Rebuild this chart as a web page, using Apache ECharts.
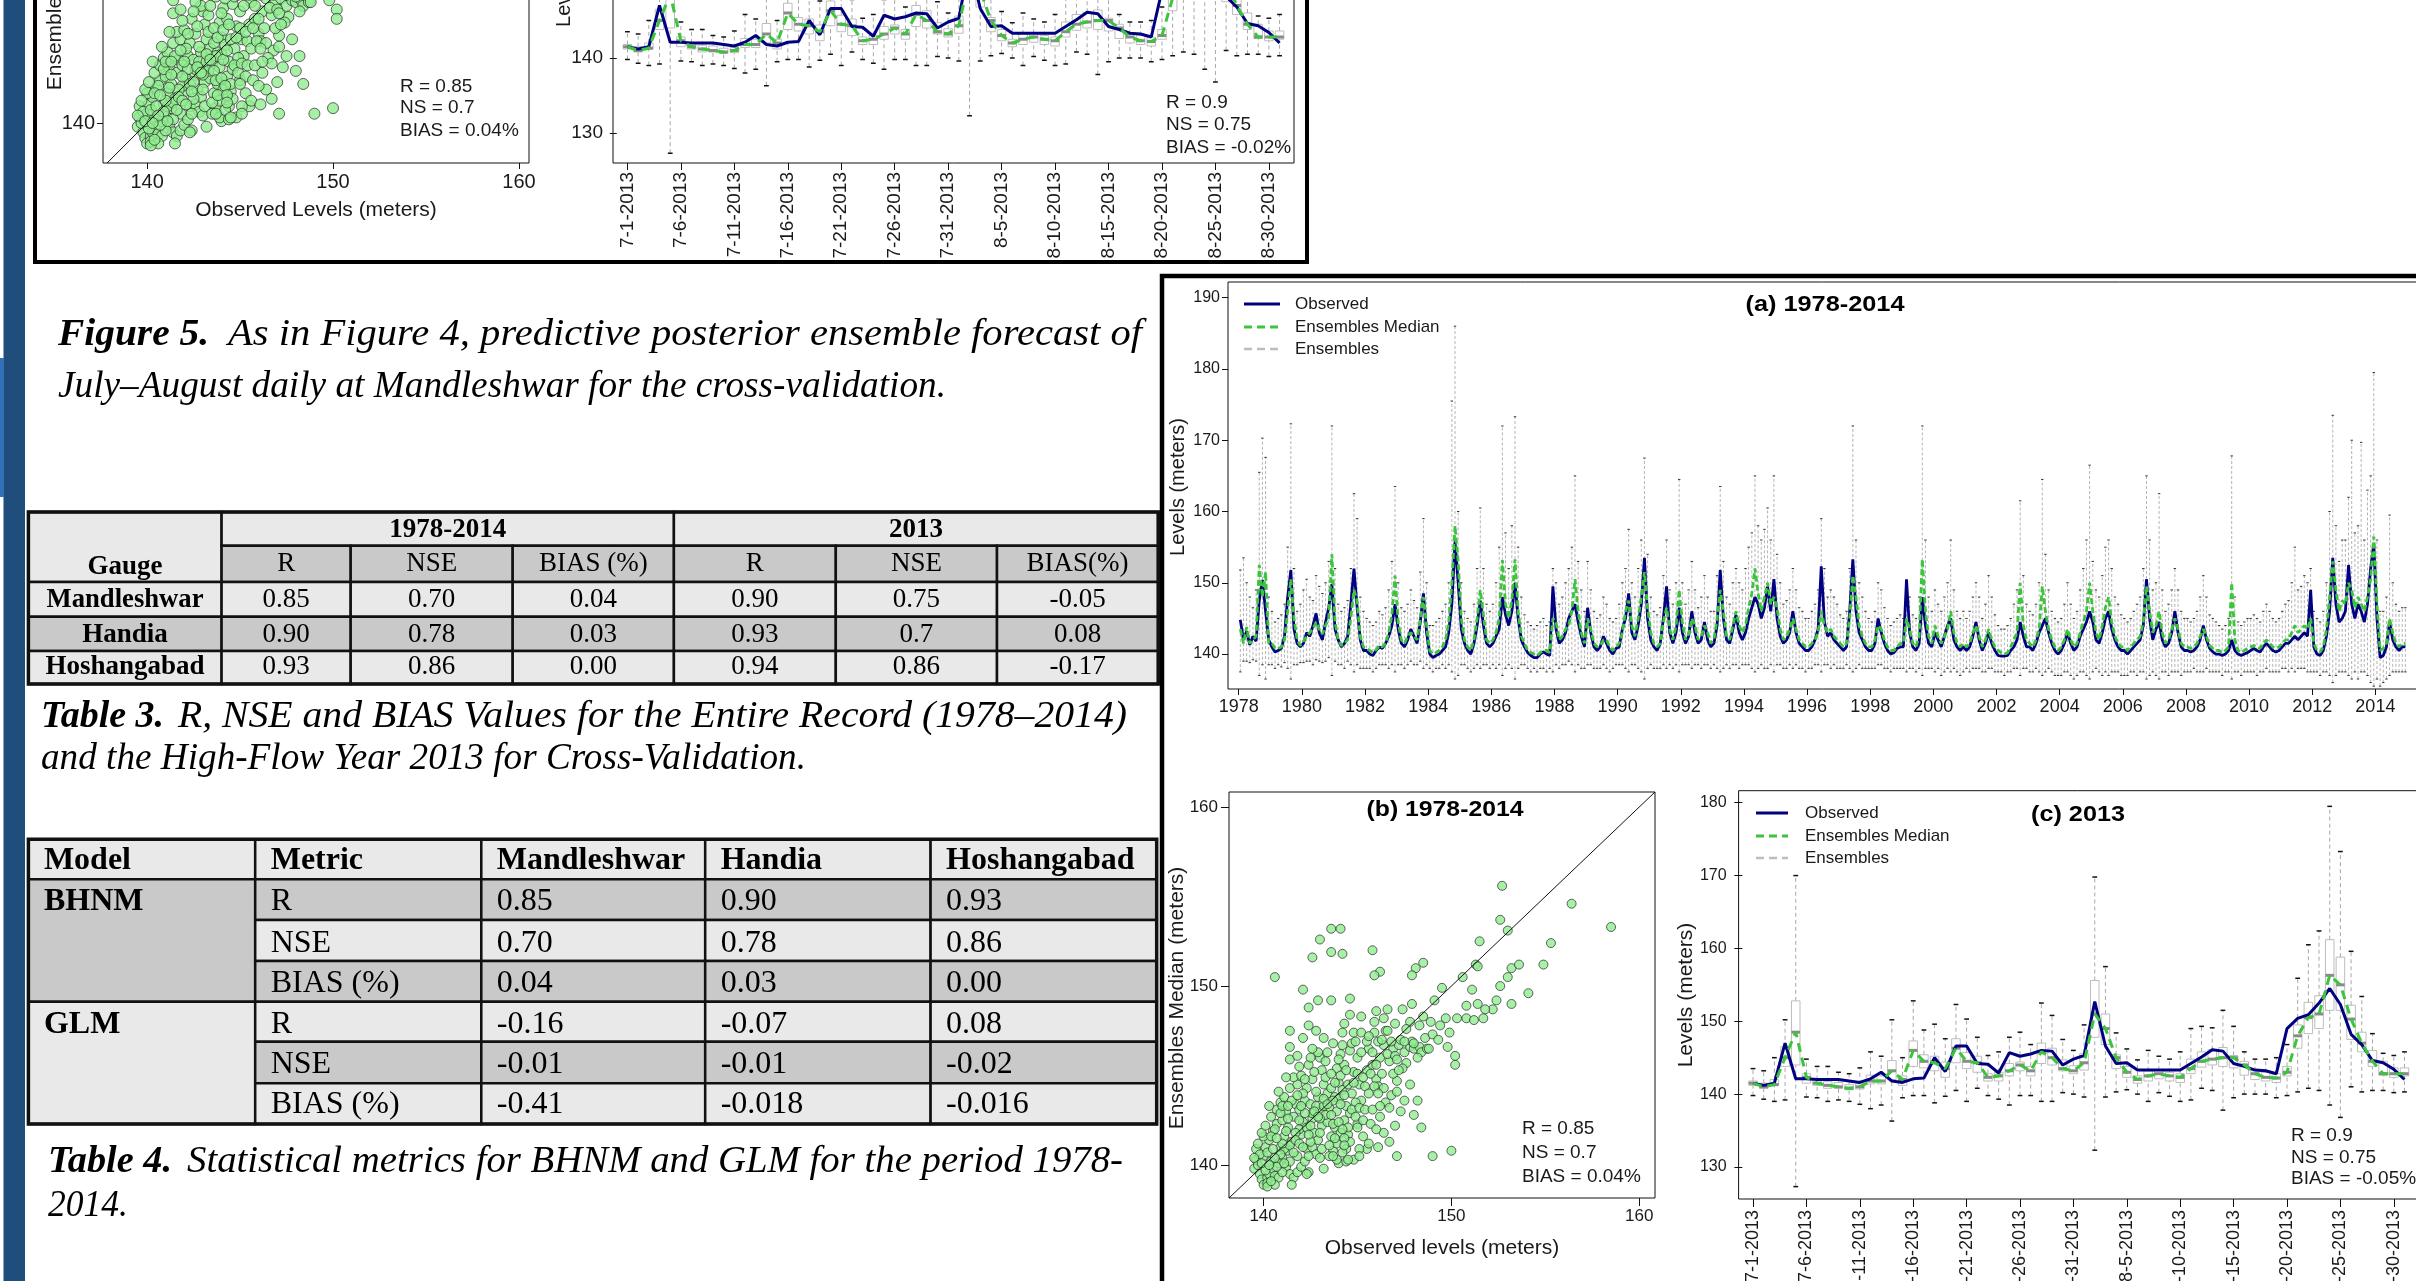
<!DOCTYPE html>
<html><head><meta charset="utf-8">
<script src="https://cdn.jsdelivr.net/npm/echarts@6/dist/echarts.min.js"></script>
<style>html,body{margin:0;padding:0;background:#fff;overflow:hidden}#main{width:2416px;height:1281px}</style>
</head><body><div id="main"></div>
<script>
// ================= DATA =================
// (a) 1978-2014: July-August levels, 10 readings per season
const years = [1978,1979,1980,1981,1982,1983,1984,1985,1986,1987,1988,1989,1990,1991,1992,1993,1994,1995,1996,1997,1998,1999,2000,2001,2002,2003,2004,2005,2006,2007,2008,2009,2010,2011,2012,2013,2014];
const yearTicks = [1978,1980,1982,1984,1986,1988,1990,1992,1994,1996,1998,2000,2002,2004,2006,2008,2010,2012,2014];
const levelTicksA = [140,150,160,170,180,190];
const tsObserved = [
[144.8,142.0,143.2,141.3,142.5,141.8,147.5,150.4,146.0,142.0],
[141.0,140.3,140.5,140.8,142.5,148.0,151.8,143.5,141.5,141.0],
[141.5,143.0,142.5,144.0,145.7,143.0,142.0,144.5,146.5,149.8],
[143.5,142.0,141.0,141.5,142.5,147.0,152.0,146.5,142.0,140.5],
[140.5,140.0,139.8,140.5,141.0,140.8,141.5,142.5,144.0,147.0],
[143.5,141.5,141.0,142.0,143.5,142.5,141.5,144.5,148.5,143.0],
[140.0,139.5,139.8,140.0,140.5,141.0,143.0,147.0,155.8,150.0],
[143.5,141.5,140.5,140.0,141.5,144.0,147.5,144.0,141.5,141.0],
[141.5,142.5,143.5,148.0,145.5,144.0,146.0,150.0,145.0,142.0],
[141.0,140.2,139.8,139.5,139.5,140.0,140.3,140.0,139.8,149.5],
[143.5,141.5,142.0,143.0,145.0,146.0,147.0,144.5,142.5,141.0],
[146.5,143.0,141.0,140.5,141.0,142.5,141.5,140.5,140.0,140.8],
[141.0,143.5,145.0,148.5,143.0,142.0,144.0,147.0,153.5,145.0],
[142.0,141.0,140.5,141.5,145.0,149.5,143.0,141.5,143.0,146.5],
[143.0,141.5,142.5,146.0,143.0,141.5,142.0,144.5,142.0,141.0],
[141.5,144.0,151.8,145.0,142.0,141.5,143.5,145.5,143.0,142.0],
[143.0,145.0,146.5,148.0,147.0,145.0,146.5,149.5,146.0,150.5],
[145.0,142.5,141.5,142.0,143.0,146.0,143.0,141.5,141.0,140.5],
[140.5,141.0,142.0,143.5,152.3,144.5,142.5,143.0,142.0,141.5],
[141.0,140.5,141.0,146.0,153.3,146.0,143.0,142.0,141.0,140.5],
[140.5,141.5,145.0,143.0,141.5,140.5,140.0,140.2,140.8,141.0],
[141.0,150.5,143.0,141.0,140.5,141.5,148.0,144.0,141.5,141.0],
[143.0,142.0,141.0,142.5,144.0,145.0,142.0,141.0,140.5,141.0],
[140.5,141.0,142.5,144.5,142.0,140.5,141.5,143.0,141.5,140.5],
[139.8,139.7,139.7,139.8,140.5,141.0,142.0,144.5,142.5,141.0],
[141.0,140.5,141.5,143.0,144.0,145.0,143.0,141.5,140.5,140.0],
[140.5,141.5,143.0,141.5,140.5,141.0,142.5,143.5,144.5,146.0],
[144.5,142.0,141.5,143.0,145.0,146.0,143.5,142.0,141.0,140.5],
[140.5,140.0,140.5,141.0,141.5,142.0,144.0,150.5,145.0,142.0],
[143.5,144.5,142.0,141.0,141.5,143.0,146.0,143.0,141.0,140.5],
[140.5,140.3,140.5,141.0,142.0,144.0,142.0,140.8,140.3,140.0],
[140.0,139.8,140.0,140.5,142.0,140.5,140.0,139.8,140.0,140.2],
[140.5,140.8,140.5,140.3,141.0,141.5,141.0,140.5,140.3,140.5],
[141.0,141.5,141.5,142.0,142.5,142.0,142.5,143.0,142.5,149.0],
[141.0,140.0,139.8,140.5,142.5,146.0,153.5,147.0,144.5,145.0],
[146.0,152.5,147.0,145.0,147.0,146.0,144.5,147.0,152.0,155.5],
[145.0,139.5,139.8,141.0,144.5,142.0,141.0,140.5,141.0,141.0]
];
const tsMedian = [
[143.5,141.5,143.8,141.5,142.0,142.5,152.5,148.0,151.5,141.5],
[141.5,140.8,140.8,141.0,142.0,146.0,150.5,145.0,142.0,141.2],
[141.8,142.5,143.0,143.5,144.5,143.5,142.8,144.0,145.0,154.0],
[144.5,142.0,141.2,141.5,142.0,145.0,149.0,147.5,142.5,141.0],
[140.8,140.5,140.2,140.6,141.2,141.0,141.5,143.0,145.5,151.0],
[144.5,142.0,141.5,142.5,143.0,142.5,142.0,145.0,148.0,144.0],
[140.5,140.0,140.2,140.5,141.0,142.0,144.5,150.0,158.0,153.0],
[145.0,142.0,141.0,140.5,142.0,145.0,149.0,145.5,142.0,141.5],
[142.0,143.0,145.0,153.2,147.0,145.0,147.5,153.3,146.0,142.5],
[141.5,140.5,140.2,140.0,139.8,140.2,140.5,140.5,140.2,145.0],
[144.5,142.0,142.5,143.5,144.0,146.0,150.5,146.0,143.0,141.5],
[145.0,143.5,141.5,141.0,141.2,142.0,142.0,141.0,140.5,141.0],
[141.5,143.0,146.0,147.5,144.0,142.5,145.0,148.0,151.5,146.5],
[143.0,141.5,141.0,141.5,144.5,146.5,143.5,142.0,144.0,149.0],
[144.5,142.0,142.8,145.0,144.0,142.0,142.5,144.0,143.0,141.5],
[142.0,145.0,149.0,146.0,142.5,142.0,144.0,146.0,144.0,143.0],
[144.0,146.5,148.5,152.0,148.5,146.0,148.0,150.0,147.0,148.0],
[146.5,143.5,142.0,142.5,143.5,145.0,143.5,142.0,141.5,141.0],
[141.0,141.5,142.0,143.0,146.0,144.0,143.0,143.5,142.5,142.0],
[141.5,141.0,141.5,145.0,151.0,148.0,144.0,142.5,141.5,141.0],
[141.0,142.0,144.0,143.5,142.0,141.0,140.5,140.5,141.0,141.5],
[141.5,145.0,143.5,141.5,141.0,142.5,153.3,146.0,142.5,141.5],
[144.0,142.5,141.5,142.5,143.5,146.0,143.0,141.5,141.0,141.5],
[141.0,141.5,143.0,144.0,142.5,141.0,142.0,143.5,142.0,141.0],
[140.5,140.2,140.0,140.2,141.0,142.0,143.0,150.0,144.0,142.0],
[141.5,141.0,142.0,143.5,149.5,146.0,143.5,142.0,141.0,140.5],
[141.0,142.0,143.5,142.0,141.0,141.5,143.0,144.5,146.0,150.0],
[146.0,143.0,142.0,144.0,146.5,148.0,144.5,142.5,141.5,141.0],
[141.0,140.5,141.0,141.5,142.0,142.5,144.5,149.5,146.0,143.0],
[144.0,146.0,143.0,141.5,142.0,143.5,145.0,143.5,141.5,141.0],
[141.0,140.8,141.0,141.5,142.5,143.5,142.5,141.2,140.8,140.5],
[140.5,140.2,140.5,141.0,150.0,142.0,140.5,140.2,140.5,140.8],
[141.0,141.2,141.0,140.8,141.5,142.0,141.5,141.0,140.8,141.0],
[141.5,142.0,142.0,143.0,144.0,143.0,143.5,144.0,143.5,145.0],
[141.5,140.5,140.3,141.0,143.5,148.0,153.0,149.0,146.0,147.5],
[147.0,150.0,149.0,146.5,148.0,147.0,146.0,148.0,150.5,156.5],
[147.0,140.5,140.8,141.5,145.0,143.0,141.5,141.0,141.5,141.5]
];
const tsEnsLow = [
[137.5,139.0,139.0,138.8,139.2,139.0,137.0,138.5,136.5,138.5],
[138.5,138.0,138.5,138.2,138.8,138.0,136.5,138.5,138.5,138.8],
[138.8,139.0,139.0,138.5,139.2,139.0,138.8,139.0,139.5,137.0],
[139.0,138.5,138.5,138.0,139.0,138.5,137.5,138.5,138.0,138.0],
[138.0,138.0,137.5,138.0,138.5,138.5,138.5,138.0,138.5,137.5],
[138.5,138.5,138.0,138.5,139.0,138.5,138.5,139.0,138.0,138.5],
[138.0,137.5,138.0,138.0,138.5,138.0,138.5,137.5,136.5,137.0],
[138.5,138.5,138.0,137.5,138.0,138.5,138.0,138.5,138.5,138.0],
[138.5,138.0,138.5,137.0,138.0,138.5,138.0,136.5,138.0,138.5],
[138.5,138.0,137.5,138.0,137.5,138.0,138.0,137.5,138.0,137.5],
[138.5,138.0,138.5,138.5,139.0,138.5,137.5,138.5,138.0,138.0],
[138.5,138.5,138.0,138.0,138.0,138.5,138.0,137.5,138.0,138.5],
[138.5,138.5,138.0,137.5,138.5,138.5,138.0,137.5,136.5,138.0],
[138.5,138.0,138.0,138.0,138.5,138.0,138.5,138.0,138.5,137.5],
[138.5,138.5,138.5,138.0,138.5,138.5,138.0,138.5,138.5,138.0],
[138.5,138.0,137.5,138.0,138.5,138.0,138.5,138.5,138.0,138.5],
[138.5,138.5,138.0,137.5,138.0,138.5,138.0,138.0,138.5,137.5],
[138.5,138.5,138.0,138.0,138.5,138.0,138.5,138.0,138.0,137.5],
[138.0,138.0,138.5,138.5,137.5,138.5,138.5,138.0,138.5,138.0],
[138.0,138.0,138.5,138.0,137.5,138.0,138.5,138.0,138.0,138.0],
[138.0,138.0,138.5,138.5,138.0,138.0,137.5,138.0,138.0,138.0],
[138.0,137.5,138.0,138.0,137.5,138.0,137.0,138.0,138.0,138.0],
[137.5,138.0,137.0,137.5,138.0,137.5,138.0,137.5,137.0,137.5],
[138.0,137.5,138.0,138.0,138.0,137.5,137.5,138.0,138.0,137.5],
[137.5,137.5,137.0,137.5,137.5,138.0,138.0,137.0,138.0,138.0],
[137.5,137.5,138.0,137.5,137.0,137.5,138.0,137.5,137.0,137.0],
[137.0,137.5,137.5,137.0,136.5,137.0,137.5,137.5,137.0,136.5],
[137.5,138.0,137.5,137.0,137.5,137.0,137.5,137.5,137.5,137.0],
[137.0,137.0,137.5,137.5,137.0,137.5,137.5,136.5,137.0,137.5],
[137.0,136.5,137.5,137.5,137.0,137.5,137.5,137.5,137.0,137.5],
[137.5,137.5,138.0,137.5,137.5,137.5,138.0,137.5,137.5,137.5],
[137.5,137.0,137.5,137.5,136.5,137.5,137.5,137.0,137.5,137.5],
[137.5,137.5,137.0,137.5,137.5,138.0,137.5,137.5,137.5,137.5],
[138.0,138.0,137.5,138.0,137.5,138.0,138.0,138.0,137.5,137.5],
[137.5,137.5,137.0,137.5,137.5,137.0,136.0,137.0,137.5,137.5],
[137.5,137.0,136.5,137.5,136.5,137.5,137.5,137.0,136.0,135.5],
[136.5,135.5,136.0,136.5,137.0,137.5,137.5,137.5,137.5,137.5]
];
const tsEnsHigh = [
[151.8,153.5,150.0,148.0,146.5,149.0,165.5,170.3,167.6,148.0],
[146.0,144.5,145.0,145.5,147.0,155.0,172.3,152.0,146.0,147.0],
[149.0,150.5,148.0,147.5,151.0,149.5,148.5,150.0,153.0,172.0],
[152.0,147.0,146.0,146.5,147.5,152.0,162.5,159.0,148.0,146.0],
[145.0,144.5,144.0,144.5,146.0,145.5,146.5,149.0,153.0,163.5],
[150.0,146.5,146.0,147.0,149.0,147.5,146.5,151.5,159.0,150.0],
[144.0,144.0,144.5,145.0,146.0,147.0,150.0,175.5,186.0,160.0],
[150.0,146.0,145.0,144.5,147.0,152.0,160.5,152.0,147.0,146.0],
[147.0,150.0,155.0,172.0,157.0,152.0,158.0,173.3,155.0,148.0],
[145.5,144.5,144.0,143.5,144.0,144.5,145.0,144.0,144.5,152.0],
[150.0,147.0,148.0,150.0,152.0,155.0,165.0,153.0,149.0,146.0],
[153.0,149.0,146.0,145.0,145.5,148.0,147.0,145.0,144.5,145.0],
[147.0,150.0,152.0,157.5,150.0,148.0,152.0,156.0,167.5,154.0],
[148.0,146.0,145.5,146.5,151.0,156.0,149.0,147.0,150.0,164.5],
[150.0,147.0,149.0,153.0,149.0,146.5,148.0,151.0,148.0,146.0],
[146.0,151.0,163.5,153.0,148.0,147.0,150.0,152.0,150.0,149.0],
[152.0,155.0,157.0,165.0,158.0,156.0,157.5,160.5,156.0,165.0],
[154.0,150.0,147.0,147.5,149.0,152.0,149.0,146.5,146.0,145.0],
[145.0,146.0,147.0,149.0,159.0,152.0,148.0,149.0,148.0,147.0],
[145.5,145.0,146.0,152.0,172.0,156.0,150.0,148.0,146.0,145.0],
[144.5,146.0,150.0,149.0,146.5,145.0,144.0,144.5,145.0,145.5],
[145.0,150.0,148.0,145.5,145.0,148.0,172.0,156.0,148.0,146.0],
[149.0,147.0,146.0,148.0,150.0,156.0,149.0,146.0,145.0,146.0],
[145.0,146.0,148.0,150.0,148.0,145.0,147.0,151.0,148.0,145.5],
[144.0,143.5,143.5,144.0,145.0,147.0,149.0,161.5,151.0,147.0],
[146.0,145.5,147.0,150.0,164.5,154.0,149.0,146.0,145.0,144.5],
[145.0,147.0,150.0,147.0,145.0,146.0,149.0,152.0,156.0,166.5],
[153.0,149.0,148.0,151.0,155.0,156.0,152.0,148.0,147.0,145.5],
[145.0,144.5,145.0,146.0,147.0,148.0,152.0,165.0,156.0,149.0],
[150.0,162.5,149.0,146.0,147.0,149.0,152.0,149.0,146.0,145.0],
[145.0,144.5,145.0,146.0,148.0,151.0,148.0,145.5,145.0,144.5],
[144.0,143.5,144.0,145.0,167.8,148.0,144.5,144.0,144.5,145.0],
[145.0,145.5,145.0,144.5,146.0,147.0,146.0,145.0,144.5,145.0],
[146.0,147.0,147.5,150.0,155.0,149.0,149.5,151.0,150.0,152.0],
[146.0,145.0,144.5,146.0,150.0,160.0,173.5,158.0,153.0,156.0],
[156.0,162.0,170.0,157.0,158.0,169.7,156.0,163.0,165.0,179.5],
[156.0,146.0,146.0,148.0,159.5,150.0,147.0,146.0,146.5,146.5]
];

// (b) Observed vs ensemble median pairs
const scatterObsMed = [
[139.6,140.9],[139.6,140.3],[139.5,139.8],[139.8,139.5],[139.9,139.2],[140.0,138.9],[140.2,139.3],[140.3,139.5],[139.7,140.0],[140.0,140.5],
[140.1,141.0],[140.4,140.2],[140.5,139.8],[140.6,139.4],[140.8,139.3],[140.3,141.4],[140.5,141.9],[140.7,142.3],[140.4,142.7],[140.7,143.1],
[140.9,143.5],[140.6,142.0],[140.9,141.0],[141.0,140.4],[141.2,139.9],[141.4,139.5],[141.6,139.3],[141.8,139.6],[141.3,140.8],[141.1,141.6],
[141.0,142.5],[141.2,143.0],[141.1,143.8],[141.4,144.3],[141.3,142.1],[141.5,141.3],[141.6,142.7],[141.7,143.4],[141.8,144.5],[141.6,144.9],
[141.8,140.5],[142.0,139.9],[142.2,140.2],[142.3,140.9],[142.0,141.7],[142.1,142.4],[141.9,143.1],[142.2,143.6],[142.3,144.3],[142.0,145.0],
[142.4,145.6],[142.6,144.8],[142.5,143.4],[142.6,142.6],[142.7,141.8],[142.6,141.0],[142.8,140.6],[143.0,140.4],[142.9,141.4],[143.1,142.2],
[143.0,143.0],[142.9,143.8],[143.2,144.5],[143.1,145.3],[143.0,146.0],[143.3,145.8],[143.4,144.0],[143.5,143.2],[143.4,142.4],[143.6,141.6],
[143.7,140.8],[143.5,140.5],[143.9,141.2],[143.8,142.1],[143.9,143.0],[143.8,143.8],[144.0,144.6],[143.9,145.4],[144.1,146.2],[144.3,145.6],
[144.2,144.2],[144.4,143.3],[144.3,142.5],[144.5,141.7],[144.4,140.9],[144.6,142.9],[144.7,144.0],[144.8,145.2],[144.6,146.4],[145.0,146.0],
[145.1,144.5],[145.2,143.6],[145.0,142.3],[145.3,141.6],[145.5,145.3],[145.6,146.5],[145.8,145.6],[146.0,144.8],[146.2,146.0],[146.4,146.7],
[146.7,145.8],[146.9,146.5],[147.2,146.7],[147.5,146.3],[147.8,146.6],[148.0,146.5],[148.3,146.6],[148.6,147.1],[148.4,146.3],[146.5,147.5],
[145.9,147.4],[146.1,144.4],[146.8,143.9],[147.1,144.7],[145.4,144.4],[144.9,143.5],
[139.8,140.6],[140.2,140.7],[140.0,141.6],[140.5,140.9],[140.8,140.1],[141.1,140.9],[141.4,141.1],[141.9,142.0],[142.3,142.1],[142.6,142.9],
[142.8,143.3],[143.2,143.3],[143.6,144.3],[144.0,143.7],[141.0,139.6],[140.2,139.0],[140.6,138.9],[141.5,138.9],[142.4,139.6],[143.2,139.8],
[144.0,140.1],[144.8,140.3],[141.7,141.8],[142.2,142.9],[140.9,142.9],[143.3,142.8],[144.1,141.8],[143.7,143.6],
[139.5,140.4],[139.7,141.2],[139.9,141.8],[140.1,142.2],[140.3,143.3],[140.2,138.8],[140.4,139.1],[140.7,139.9],[140.9,140.6],[141.0,141.2],
[141.2,141.9],[141.3,142.6],[141.5,143.6],[141.4,140.2],[141.6,140.7],[141.7,141.4],[141.9,142.5],[142.0,143.3],[142.1,144.0],[142.2,144.8],
[142.3,139.5],[142.4,140.5],[142.5,141.3],[142.5,142.2],[142.7,143.0],[142.8,144.1],[142.7,145.2],[142.9,146.3],[143.0,141.8],[143.1,140.9],
[143.2,143.7],[143.3,144.9],[143.4,146.3],[143.5,141.1],[143.6,142.8],[143.6,145.1],[143.7,142.3],[143.8,144.6],[143.9,140.3],[144.0,142.4],
[144.1,143.4],[144.1,145.0],[144.2,146.7],[144.3,143.9],[144.4,145.3],[144.5,142.1],[144.5,144.5],[144.6,141.3],[144.7,143.1],[144.7,146.8],
[144.8,144.6],[144.9,142.7],[145.0,145.1],[145.1,143.2],[145.2,146.3],[145.3,144.9],[145.4,143.1],[145.5,146.9],[145.6,144.0],[145.7,145.1],
[145.8,146.3],[145.9,144.4],[146.0,145.6],[146.1,146.9],[146.3,145.1],[146.4,144.3],[146.6,146.2],[146.8,146.9],[147.0,146.1],[147.3,147.0],
[147.6,145.7],[147.9,146.9],[148.2,146.0],[148.7,146.5],[149.0,147.3],[149.3,147.0],[146.9,145.1],[147.4,145.4],[141.0,143.3],[140.8,144.1],
[141.2,144.9],[141.9,145.5],[142.6,146.5],[141.4,146.6],[140.6,140.4],[140.1,139.7],[139.9,140.1],[140.4,141.6],[141.1,140.1],[141.9,141.2],
[142.4,141.7],[142.1,141.0],[143.0,142.6],[143.4,143.4],[144.0,145.9],[144.9,146.9],[145.3,142.5],[145.7,142.3],[146.2,142.7],[146.5,143.5],
[140.3,140.0],[140.7,141.5],[141.3,143.3],[141.8,143.9],[142.9,142.7],[143.8,141.5],[144.2,140.7],[145.5,140.9],[146.4,141.8],[147.0,142.2],
[147.3,143.0],[147.8,144.5],[148.2,143.6],[143.2,147.1],[142.8,147.5],[143.7,146.8],[144.3,147.9],[145.2,148.3],[146.4,148.2],[147.8,148.0],
[152.7,155.6],[156.4,154.6],[158.5,153.3],[152.6,153.7],[153.0,153.1],[151.5,152.5],[155.3,152.4],[143.6,153.2],[144.1,153.2],[143.0,152.6],
[143.6,151.9],[144.2,151.8],[142.6,151.6],[145.8,152.0],[148.5,151.3],[148.1,151.0],[147.9,150.6],[146.2,150.8],[145.9,150.6],[140.6,150.5],
[150.6,150.5],[151.3,151.2],[151.4,151.1],[153.2,151.0],[153.6,151.2],[154.9,151.2],[153.0,150.5],[152.6,150.0],[154.1,149.6],[142.1,149.8],
[142.9,149.2],[143.6,149.2],[144.6,149.3],[142.4,148.8],[144.6,148.4],[149.5,149.9],[149.1,149.2],[151.1,149.8],[150.8,148.9],[151.4,149.0],
[152.4,149.2],[153.2,149.0],[152.2,148.7],[151.8,148.7],[146.0,148.6],[146.6,148.7],[147.4,148.7],[147.9,149.0],[148.5,148.3],[149.7,148.2],
[150.3,148.2],[150.8,148.2],[151.2,148.1],[151.7,148.2],[145.9,148.0],[147.0,147.9],[147.6,147.6],[148.3,147.8],[148.9,148.0],[149.4,147.8],
[149.9,147.4],[141.4,147.5],[142.4,147.8],[142.1,147.1],[146.6,147.5],[149.8,146.6],[150.2,146.1],[150.2,145.6],[148.8,146.5],[148.0,146.8],
[147.5,146.9],[147.1,145.9],[141.4,145.9],[141.8,146.1],[142.5,146.0],[144.2,147.4],[144.8,147.4],[145.2,147.4],[145.6,147.2],[146.3,147.0],
[147.2,145.3],[147.1,144.1],[147.5,143.6],[146.1,144.0],[146.7,143.2],[148.0,142.8],[148.4,142.1],[145.8,143.1],[146.2,143.3],[146.0,142.0],
[146.7,141.3],[145.6,141.2],[146.1,141.0],[147.1,140.5],[149.0,140.5],[150.0,140.8],[145.0,142.1],[145.1,140.9],[145.1,140.5],[144.4,140.2],
[144.5,140.3],[143.7,140.5],[144.2,142.0],[144.3,141.5],[144.3,141.1]
];

// (c) 2013 daily, July 1 - Aug 31
const dayTicks = [1,6,11,16,21,26,31,36,41,46,51,56,61];
const dayTickLabels = ['7-1-2013','7-6-2013','7-11-2013','7-16-2013','7-21-2013','7-26-2013','7-31-2013','8-5-2013','8-10-2013','8-15-2013','8-20-2013','8-25-2013','8-30-2013'];
const levelTicksC = [130,140,150,160,170,180];
const levelTicksB = [140,150,160];
const observed2013 = [141.5,141.2,141.5,147.0,142.1,142.1,142.0,142.0,142.0,141.8, 141.6,142.1,143.0,141.8,141.6,142.1,142.2,145.0,143.1,146.6, 146.6,144.2,144.1,142.9,145.7,145.2,145.5,146.0,145.9,144.0, 144.8,145.3,152.7,146.6,144.2,144.3,143.3,143.3,143.3,143.3, 143.3,144.2,145.1,146.1,145.9,144.2,143.8,143.3,143.2,142.8, 149.0,150.4,150.9,152.5,154.5,152.3,148.2,146.8,144.6,144.3,143.4,142.0];
const median2013 = [141.5,141.0,141.3,145.0,148.5,142.3,141.5,141.2,141.0,140.8, 141.0,141.8,141.8,143.2,142.0,146.0,144.5,144.3,143.5,146.3, 144.5,144.3,142.3,142.5,143.2,144.0,143.2,145.8,145.0,143.5, 143.2,144.3,151.0,149.0,145.0,143.0,142.0,142.5,142.8,142.5, 142.3,143.5,144.5,144.8,145.0,145.0,144.0,142.8,142.3,142.2, 143.0,148.0,150.5,151.0,156.3,155.0,150.3,147.0,144.5,142.8,142.8,142.8];
const whiskerLow2013 = [139.8,139.3,139.0,139.2,127.3,139.6,139.5,139.0,139.2,139.0, 138.6,138.0,138.5,136.3,139.5,139.8,139.8,138.8,139.7,140.5, 139.0,140.8,139.8,139.3,138.5,139.8,139.8,139.0,139.0,140.2, 140.0,139.6,132.3,139.6,140.3,140.6,140.0,139.0,140.2,139.7, 139.0,139.2,140.8,140.5,137.8,139.5,140.0,140.0,140.0,139.5, 139.8,140.3,140.8,140.5,138.5,136.8,141.0,140.3,140.5,140.5,140.2,140.3];
const boxLow2013 = [141.2,140.8,141.2,143.8,144.0,141.5,141.2,140.8,140.8,140.6, 140.7,141.4,141.4,142.0,141.2,143.8,143.6,143.2,142.3,144.3, 143.5,143.0,141.8,141.8,142.5,143.2,142.5,144.2,144.0,143.2, 142.8,143.3,147.8,146.8,143.5,142.3,141.5,141.8,142.1,141.8, 141.6,142.8,143.7,144.0,143.8,143.6,142.6,142.0,141.8,141.6, 142.5,146.3,148.3,149.0,151.5,151.5,147.5,145.8,143.8,142.6,142.3,142.5];
const boxHigh2013 = [141.8,141.5,142.0,146.5,152.8,142.8,142.0,141.7,141.6,141.3, 141.4,142.6,142.5,144.6,142.5,147.3,145.4,145.2,144.4,147.6, 145.7,145.2,142.8,143.0,144.2,144.4,143.8,147.0,146.3,144.7, 143.9,145.6,155.6,151.0,145.4,143.8,142.5,143.2,143.3,143.0, 142.8,144.8,145.8,146.1,146.4,145.3,144.5,143.2,143.0,142.8, 143.8,149.5,152.6,153.5,161.2,158.8,152.2,148.5,146.0,144.5,143.6,143.6];
const whiskerHigh2013 = [143.5,143.2,145.0,150.2,170.0,144.8,143.8,143.8,143.0,142.8, 143.6,145.8,145.2,150.2,145.0,152.8,148.8,149.6,147.6,152.3, 150.3,147.8,145.3,145.8,147.8,148.5,146.8,152.5,150.8,147.5, 146.0,149.5,169.8,157.5,148.4,146.2,144.7,146.0,145.2,144.8, 145.8,149.0,149.3,149.1,151.5,149.3,145.8,144.8,144.8,145.0, 146.8,155.9,160.5,162.4,179.5,173.3,159.6,153.4,148.3,145.6,145.3,145.8];

// Table 3
const t3Gauges = ['Mandleshwar','Handia','Hoshangabad'];
const t3Periods = ['1978-2014','2013'];
const t3Metrics = ['R','NSE','BIAS (%)','R','NSE','BIAS(%)'];
const t3R_all = ['0.85','0.90','0.93'];
const t3NSE_all = ['0.70','0.78','0.86'];
const t3BIAS_all = ['0.04','0.03','0.00'];
const t3R_2013 = ['0.90','0.93','0.94'];
const t3NSE_2013 = ['0.75','0.7','0.86'];
const t3BIAS_2013 = ['-0.05','0.08','-0.17'];
// Table 4
const t4Header = ['Model','Metric','Mandleshwar','Handia','Hoshangabad'];
const t4Models = ['BHNM','GLM'];
const t4Metrics = ['R','NSE','BIAS (%)','R','NSE','BIAS (%)'];
const t4Mandleshwar = ['0.85','0.70','0.04','-0.16','-0.01','-0.41'];
const t4Handia = ['0.90','0.78','0.03','-0.07','-0.01','-0.018'];
const t4Hoshangabad = ['0.93','0.86','0.00','0.08','-0.02','-0.016'];

// ================= STYLE / HELPERS =================
const NAVY = '#000080', GREEN = '#3cc43c', SANS = '"Liberation Sans", Arial, sans-serif', SERIF = '"Liberation Serif", "Times New Roman", serif';
const ctx2d = document.createElement('canvas').getContext('2d');
function measure(str, font){ ctx2d.font = font; return ctx2d.measureText(str).width; }
function T(str, x, y, font, o){
  o = o || {};
  let sx = o.scaleX || 1;
  if (o.fitW) sx = o.fitW / measure(str, font);
  const al = o.align || 'left', va = o.va || 'middle';
  return {type:'text', x:x, y:y, rotation:o.rot||0, scaleX:sx, scaleY:1, z:o.z||60, silent:true,
    style:{text:str, font:font, fill:o.fill||'#000', textAlign:al, align:al, textVerticalAlign:va, verticalAlign:va}};
}
function L(x1,y1,x2,y2,stroke,w,dash){ return {type:'line', z:60, silent:true, shape:{x1,y1,x2,y2}, style:{stroke:stroke, lineWidth:w, lineDash:dash||null}}; }
function RC(x,y,w,h,fill,stroke,lw,z){ return {type:'rect', z:z||10, silent:true, shape:{x:x,y:y,width:w,height:h}, style:{fill:fill||'none', stroke:stroke||null, lineWidth:lw||0}}; }

function valAxis(grid, min, max, ticks, o){
  o = o || {};
  const lab = {show:true, customValues:ticks, margin:o.margin||8, fontSize:o.fontSize||16, fontFamily:SANS, color:'#1a1a1a', rotate:o.rotate||0,
    formatter: o.formatter || (v => String(v))};
  return {type:'value', gridIndex:grid, min:min, max:max,
    axisLine:{show:false}, splitLine:{show:false},
    axisTick:{show:true, inside:false, length:o.tickLen||7, customValues:ticks, lineStyle:{color:'#111', width:1}},
    axisLabel:lab};
}
const dayFmt = v => { const i = dayTicks.indexOf(Math.round(v)); return i >= 0 ? dayTickLabels[i] : ''; };

// series data built from arrays
const whiskerData = [], obsLine = [], medLine = [];
years.forEach((yr, yi) => {
  const n = tsObserved[yi].length;
  for (let k = 0; k < n; k++) {
    const x = yr + (k + 0.5) / n;
    whiskerData.push([x, tsEnsLow[yi][k], tsEnsHigh[yi][k]]);
    obsLine.push([x, tsObserved[yi][k]]);
    medLine.push([x, tsMedian[yi][k]]);
  }
});
const boxData = observed2013.map((v, i) => [i + 1, whiskerLow2013[i], boxLow2013[i], median2013[i], boxHigh2013[i], whiskerHigh2013[i]]);
const obs13 = observed2013.map((v, i) => [i + 1, v]);
const med13 = median2013.map((v, i) => [i + 1, v]);

function renderWhisker(params, api){
  const x = api.value(0), lo = api.value(1), hi = api.value(2);
  const a = api.coord([x, lo]), b = api.coord([x, hi]);
  return {type:'group', children:[
    {type:'line', shape:{x1:a[0],y1:a[1],x2:b[0],y2:b[1]}, style:{stroke:'#b4b4b4', lineWidth:1, lineDash:[3,2]}},
    {type:'line', shape:{x1:a[0]-1.2,y1:a[1],x2:a[0]+1.2,y2:a[1]}, style:{stroke:'#333', lineWidth:1}},
    {type:'line', shape:{x1:b[0]-1.2,y1:b[1],x2:b[0]+1.2,y2:b[1]}, style:{stroke:'#333', lineWidth:1}}
  ]};
}
function renderBox(params, api){
  const d = api.value(0);
  const pLo = api.coord([d, api.value(1)]), pQ1 = api.coord([d, api.value(2)]), pMd = api.coord([d, api.value(3)]),
        pQ3 = api.coord([d, api.value(4)]), pHi = api.coord([d, api.value(5)]);
  const w = api.size([0.8, 0])[0], cx = pLo[0], hw = w / 2, cw = w * 0.28;
  return {type:'group', children:[
    {type:'line', shape:{x1:cx,y1:pLo[1],x2:cx,y2:pQ1[1]}, style:{stroke:'#a8a8a8', lineWidth:1, lineDash:[4,3]}},
    {type:'line', shape:{x1:cx,y1:pQ3[1],x2:cx,y2:pHi[1]}, style:{stroke:'#a8a8a8', lineWidth:1, lineDash:[4,3]}},
    {type:'line', shape:{x1:cx-cw,y1:pLo[1],x2:cx+cw,y2:pLo[1]}, style:{stroke:'#111', lineWidth:1.5}},
    {type:'line', shape:{x1:cx-cw,y1:pHi[1],x2:cx+cw,y2:pHi[1]}, style:{stroke:'#111', lineWidth:1.5}},
    {type:'rect', shape:{x:cx-hw, y:pQ3[1], width:w, height:Math.max(pQ1[1]-pQ3[1], 1)}, style:{fill:'none', stroke:'#bdbdbd', lineWidth:1}},
    {type:'line', shape:{x1:cx-hw,y1:pMd[1],x2:cx+hw,y2:pMd[1]}, style:{stroke:'#8a8a8a', lineWidth:3}}
  ]};
}

// axis ranges
const tlX = [137.63, 160.54], tlY = [137.85, 160.84];
const bRange = [138.16, 160.84];
const dayRange = [-0.35, 63.35];

// ================= GRAPHICS (frames, texts, tables) =================
const G = [];
// left page bar
G.push(RC(3.5, 0, 21.5, 1281, '#1f4e7d', null, 0, 5));
G.push(RC(0, 358, 4, 139, '#3270b8', null, 0, 6));
// figure frames
G.push(RC(35, -20, 1272, 282, 'none', '#000', 4, 70));
G.push(RC(1162, 276, 1320, 1100, 'none', '#000', 4.5, 70));

// top-left figure texts (cropped Figure 4)
G.push(T('Observed Levels (meters)', 316, 210, '21px ' + SANS, {align:'center', fill:'#1a1a1a'}));
G.push(T('Ensembles Median (meters)', 55, -41, '21px ' + SANS, {align:'center', rot:Math.PI/2, fill:'#1a1a1a'}));
G.push(T('Levels (meters)', 564, -42, '20px ' + SANS, {align:'center', rot:Math.PI/2, fill:'#1a1a1a'}));
[['R = 0.85',87],['NS = 0.7',108],['BIAS = 0.04%',131]].forEach(t => G.push(T(t[0], 400, t[1], '19px ' + SANS, {fill:'#1a1a1a'})));
[['R = 0.9',103],['NS = 0.75',125],['BIAS = -0.02%',148]].forEach(t => G.push(T(t[0], 1166, t[1], '19px ' + SANS, {fill:'#1a1a1a'})));

// (a)
G.push(T('(a) 1978-2014', 1825, 305, 'bold 22px ' + SANS, {align:'center', fitW:159}));
G.push(T('Levels (meters)', 1178, 487, '20px ' + SANS, {align:'center', rot:Math.PI/2, fill:'#1a1a1a'}));
G.push(L(1244, 304, 1280, 304, NAVY, 3));
G.push(L(1244, 327, 1280, 327, GREEN, 3, [8,5]));
G.push(L(1244, 349, 1280, 349, '#bdbdbd', 2.5, [8,5]));
[['Observed',304],['Ensembles Median',327],['Ensembles',349]].forEach(t => G.push(T(t[0], 1295, t[1], '17px ' + SANS, {fill:'#1a1a1a'})));

// (b)
G.push(T('(b) 1978-2014', 1445, 810, 'bold 22px ' + SANS, {align:'center', fitW:157}));
G.push(T('Observed levels (meters)', 1442, 1248, '21px ' + SANS, {align:'center', fill:'#1a1a1a'}));
G.push(T('Ensembles Median (meters)', 1177, 998, '21px ' + SANS, {align:'center', rot:Math.PI/2, fill:'#1a1a1a'}));
[['R = 0.85',1129],['NS = 0.7',1153],['BIAS = 0.04%',1177]].forEach(t => G.push(T(t[0], 1522, t[1], '19px ' + SANS, {fill:'#1a1a1a'})));

// (c)
G.push(T('(c) 2013', 2078, 815, 'bold 22px ' + SANS, {align:'center', fitW:94}));
G.push(T('Levels (meters)', 1686, 995, '21px ' + SANS, {align:'center', rot:Math.PI/2, fill:'#1a1a1a'}));
G.push(L(1756, 813, 1788, 813, NAVY, 3));
G.push(L(1756, 836, 1788, 836, GREEN, 3, [8,5]));
G.push(L(1756, 858, 1788, 858, '#bdbdbd', 2.5, [8,5]));
[['Observed',813],['Ensembles Median',836],['Ensembles',858]].forEach(t => G.push(T(t[0], 1805, t[1], '17px ' + SANS, {fill:'#1a1a1a'})));
[['R = 0.9',1136],['NS = 0.75',1158],['BIAS = -0.05%',1179]].forEach(t => G.push(T(t[0], 2291, t[1], '19px ' + SANS, {fill:'#1a1a1a'})));

// captions
function cap(segs){ segs.forEach(s => G.push(T(s[0], s[2], s[4], s[1], {fitW:s[3]-s[2]}))); }
const BI = sz => 'italic bold ' + sz + 'px ' + SERIF, IT = sz => 'italic ' + sz + 'px ' + SERIF;
cap([
  ['Figure 5.', BI(37), 58, 209, 335],
  ['As in Figure 4, predictive posterior ensemble forecast of', IT(37), 228, 1142, 335],
  ['July\u2013August daily at Mandleshwar for the cross-validation.', IT(37), 58, 946, 387],
  ['Table 3.', BI(37), 41, 164, 717],
  ['R, NSE and BIAS Values for the Entire Record (1978\u20132014)', IT(37), 178, 1127, 717],
  ['and the High-Flow Year 2013 for Cross-Validation.', IT(37), 41, 806, 759],
  ['Table 4.', BI(38), 48, 172, 1162],
  ['Statistical metrics for BHNM and GLM for the period 1978-', IT(38), 187, 1123, 1162],
  ['2014.', IT(38), 48, 128, 1206]
]);

// Table 3
const LIGHT = '#e9e9e9', DARK = '#c9c9c9', BORDER = '#111';
const t3X = [28.4, 221.6, 350.7, 512.7, 673.9, 835.8, 997, 1158.2];
const t3Y = [512, 545.7, 582, 616.7, 651, 684];
function cell(x0, y0, x1, y1, fill){ G.push(RC(x0, y0, x1 - x0, y1 - y0, fill, BORDER, 2.5, 20)); }
cell(t3X[0], t3Y[0], t3X[1], t3Y[2], LIGHT);
cell(t3X[1], t3Y[0], t3X[4], t3Y[1], LIGHT);
cell(t3X[4], t3Y[0], t3X[7], t3Y[1], LIGHT);
for (let c = 1; c < 7; c++) cell(t3X[c], t3Y[1], t3X[c+1], t3Y[2], DARK);
for (let r = 0; r < 3; r++) for (let c = 0; c < 7; c++) cell(t3X[c], t3Y[r+2], t3X[c+1], t3Y[r+3], r === 1 ? DARK : LIGHT);
G.push(RC(t3X[0], t3Y[0], t3X[7] - t3X[0], t3Y[5] - t3Y[0], 'none', BORDER, 3.5, 21));
const F3 = '27px ' + SERIF, F3B = 'bold 27px ' + SERIF, S3 = 1.0;
const mid = (a, b) => (a + b) / 2;
G.push(T('Gauge', mid(t3X[0], t3X[1]), 567, F3B, {align:'center', scaleX:S3}));
G.push(T(t3Periods[0], mid(t3X[1], t3X[4]), 530, F3B, {align:'center', scaleX:S3}));
G.push(T(t3Periods[1], mid(t3X[4], t3X[7]), 530, F3B, {align:'center', scaleX:S3}));
t3Metrics.forEach((m, i) => G.push(T(m, mid(t3X[i+1], t3X[i+2]), 564, F3, {align:'center', scaleX:S3})));
const t3RowY = [600, 635, 667];
const t3Cols = [t3R_all, t3NSE_all, t3BIAS_all, t3R_2013, t3NSE_2013, t3BIAS_2013];
t3Gauges.forEach((g, r) => {
  G.push(T(g, mid(t3X[0], t3X[1]), t3RowY[r], F3B, {align:'center', fitW: r === 0 ? 157 : null, scaleX:S3}));
  t3Cols.forEach((col, c) => G.push(T(col[r], mid(t3X[c+1], t3X[c+2]), t3RowY[r], F3, {align:'center', scaleX:S3})));
});

// Table 4
const t4X = [28.4, 255.2, 481.3, 705.2, 930.6, 1156.7];
const t4Y = [839.3, 879.3, 920, 961, 1001.7, 1041.7, 1083.3, 1124];
for (let c = 0; c < 5; c++) cell(t4X[c], t4Y[0], t4X[c+1], t4Y[1], LIGHT);
cell(t4X[0], t4Y[1], t4X[1], t4Y[4], DARK);
cell(t4X[0], t4Y[4], t4X[1], t4Y[7], LIGHT);
for (let r = 0; r < 6; r++) for (let c = 1; c < 5; c++) cell(t4X[c], t4Y[r+1], t4X[c+1], t4Y[r+2], r % 2 === 0 ? DARK : LIGHT);
G.push(RC(t4X[0], t4Y[0], t4X[5] - t4X[0], t4Y[7] - t4Y[0], 'none', BORDER, 3.5, 21));
const F4 = '32px ' + SERIF, F4B = 'bold 32px ' + SERIF, S4 = 1.0, PAD = 15.5;
t4Header.forEach((h, c) => G.push(T(h, t4X[c] + PAD, 861, F4B, {scaleX:S4})));
const t4RowY = [902, 944, 984, 1025, 1065, 1105];
G.push(T(t4Models[0], t4X[0] + PAD, t4RowY[0], F4B, {scaleX:S4}));
G.push(T(t4Models[1], t4X[0] + PAD, t4RowY[3], F4B, {scaleX:S4}));
const t4Cols = [t4Metrics, t4Mandleshwar, t4Handia, t4Hoshangabad];
t4RowY.forEach((y, r) => t4Cols.forEach((col, c) => G.push(T(col[r], t4X[c+1] + PAD, y, F4, {scaleX:S4}))));

// ================= CHART =================
const chart = echarts.init(document.getElementById('main'), null, {renderer:'canvas'});
const gridBase = {show:true, borderColor:'#111', borderWidth:1, backgroundColor:'transparent', containLabel:false, outerBoundsMode:'none'};
chart.setOption({
  animation:false,
  backgroundColor:'#ffffff',
  grid:[
    Object.assign({left:103, top:-264.6, width:426, height:427.6}, gridBase),
    Object.assign({left:613, top:-254.4, width:681, height:417.4}, gridBase),
    Object.assign({left:1228, top:282, width:1190, height:407}, gridBase),
    Object.assign({left:1229, top:792, width:426, height:406}, gridBase),
    Object.assign({left:1738.6, top:790.7, width:680.3, height:408.3}, gridBase)
  ],
  xAxis:[
    valAxis(0, tlX[0], tlX[1], [140,150,160], {fontSize:20, margin:9, tickLen:6}),
    valAxis(1, dayRange[0], dayRange[1], dayTicks, {fontSize:19, margin:9, rotate:90, formatter:dayFmt}),
    valAxis(2, 1977.66, 2015.35, yearTicks, {fontSize:18, margin:9, tickLen:6}),
    valAxis(3, bRange[0], bRange[1], levelTicksB, {fontSize:17, margin:10, tickLen:8}),
    valAxis(4, dayRange[0], dayRange[1], dayTicks, {fontSize:18, margin:11, rotate:90, formatter:dayFmt, tickLen:8})
  ],
  yAxis:[
    valAxis(0, tlY[0], tlY[1], [140,150,160], {fontSize:20, margin:8, tickLen:6}),
    valAxis(1, 126, 181.65, levelTicksC, {fontSize:19, margin:10, tickLen:7}),
    valAxis(2, 135.1, 192.2, levelTicksA, {fontSize:16, margin:8, tickLen:6}),
    valAxis(3, bRange[0], bRange[1], levelTicksB, {fontSize:17, margin:11, tickLen:8}),
    valAxis(4, 125.6, 181.65, levelTicksC, {fontSize:16, margin:12, tickLen:8})
  ],
  graphic:{elements:G},
  series:[
    // top-left scatter (cropped)
    {type:'scatter', xAxisIndex:0, yAxisIndex:0, data:scatterObsMed, symbol:'circle', symbolSize:11, z:3,
      itemStyle:{color:'#90ee90', borderColor:'#2a2a2a', borderWidth:0.9}, silent:true},
    {type:'line', xAxisIndex:0, yAxisIndex:0, data:[[tlY[0], tlY[0]], [tlY[1], tlY[1]]], showSymbol:false, z:4,
      lineStyle:{color:'#111', width:1}, silent:true},
    // top-left boxplot (cropped)
    {type:'custom', xAxisIndex:1, yAxisIndex:1, data:boxData, renderItem:renderBox, encode:{x:0, y:[1,5]}, z:2, silent:true},
    {type:'line', xAxisIndex:1, yAxisIndex:1, data:obs13, showSymbol:false, z:4, lineStyle:{color:NAVY, width:3}, silent:true},
    {type:'line', xAxisIndex:1, yAxisIndex:1, data:med13, showSymbol:false, z:5, lineStyle:{color:GREEN, width:3, type:[9,6]}, silent:true},
    // (a)
    {type:'custom', xAxisIndex:2, yAxisIndex:2, data:whiskerData, renderItem:renderWhisker, encode:{x:0, y:[1,2]}, z:2, silent:true},
    {type:'line', xAxisIndex:2, yAxisIndex:2, data:obsLine, showSymbol:false, z:4, lineStyle:{color:NAVY, width:2.8}, silent:true},
    {type:'line', xAxisIndex:2, yAxisIndex:2, data:medLine, showSymbol:false, z:5, lineStyle:{color:GREEN, width:2.8, type:[6,3]}, silent:true},
    // (b)
    {type:'scatter', xAxisIndex:3, yAxisIndex:3, data:scatterObsMed, symbol:'circle', symbolSize:9, z:3,
      itemStyle:{color:'#90ee90', borderColor:'#2a2a2a', borderWidth:0.9}, silent:true},
    {type:'line', xAxisIndex:3, yAxisIndex:3, data:[[bRange[0], bRange[0]], [bRange[1], bRange[1]]], showSymbol:false, z:4,
      lineStyle:{color:'#111', width:1}, silent:true},
    // (c)
    {type:'custom', xAxisIndex:4, yAxisIndex:4, data:boxData, renderItem:renderBox, encode:{x:0, y:[1,5]}, z:2, silent:true},
    {type:'line', xAxisIndex:4, yAxisIndex:4, data:obs13, showSymbol:false, z:4, lineStyle:{color:NAVY, width:3}, silent:true},
    {type:'line', xAxisIndex:4, yAxisIndex:4, data:med13, showSymbol:false, z:5, lineStyle:{color:GREEN, width:3, type:[9,6]}, silent:true}
  ]
});
</script>
</body></html>
